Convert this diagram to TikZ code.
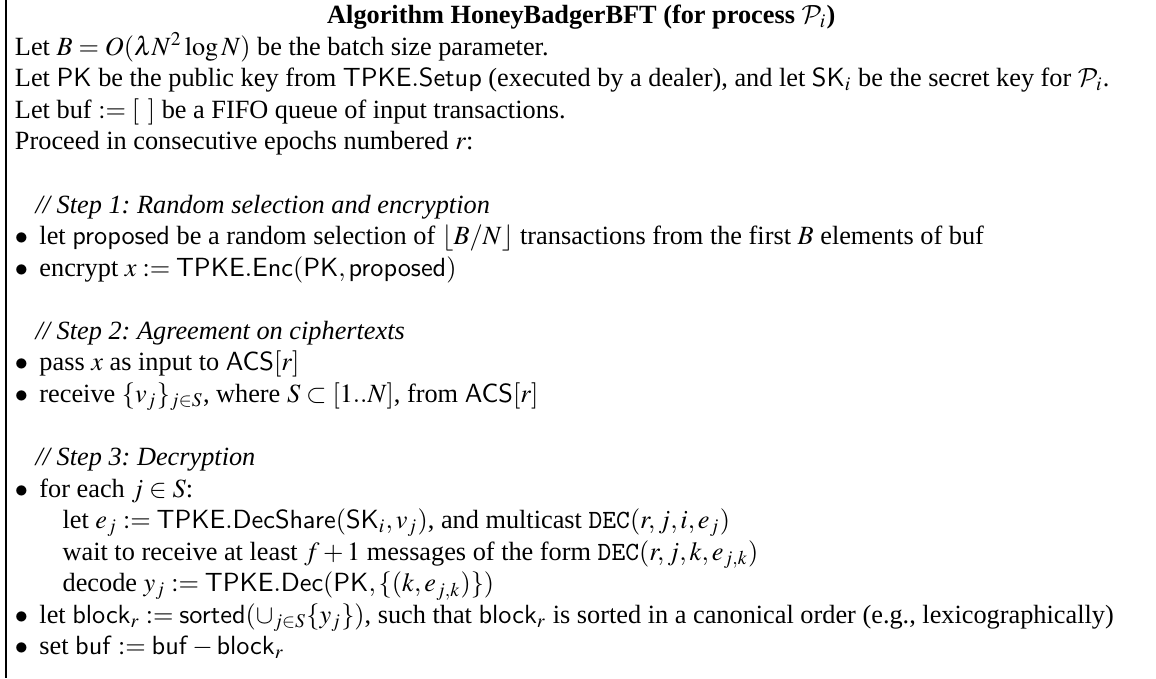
\documentclass[tikz,border=0pt]{standalone}
\usepackage{mathptmx}
\usepackage{fontspec}
\setmainfont{Liberation Serif}
\setsansfont{Liberation Sans}
\usepackage{tikz}
\usetikzlibrary{positioning, calc}
\DeclareMathAlphabet{\mathcal}{OMS}{cmsy}{m}{n}

\newcommand{\bul}{\makebox[9.3pt][l]{$\bullet$}}

\begin{document}
\begin{tikzpicture}[
  row/.style={anchor=base west, inner sep=0pt, font=\normalsize},
  cmt/.style={row, font=\normalsize\itshape\frenchspacing},
  ttl/.style={anchor=base, inner sep=0pt, font=\normalsize\bfseries}
]
  \useasboundingbox (0,0) rectangle (439.5pt,-257.8pt);
  \coordinate (frametop) at (2.3pt,0);
  \coordinate (framebot) at (2.3pt,-257.8pt);
  \draw[line width=0.5pt] (frametop) -- (framebot);

  % header
  \node[ttl] (title) at (221pt,-9pt) {Algorithm HoneyBadgerBFT (for process $\mathcal{P}_i$)};
  \node[row] (batch) at (5.5pt,-21pt) {Let $B = O(\lambda N^2 \log N)$ be the batch size parameter.};
  \node[row] (keys) at (5.5pt,-33pt) {Let $\mathsf{PK}$ be the public key from $\mathsf{TPKE.Setup}$ (executed by a dealer), and let $\mathsf{SK}_i$ be the secret key for $\mathcal{P}_i$.};
  \node[row] (queue) at (5.5pt,-45pt) {Let buf $:= [\;\,]$ be a FIFO queue of input transactions.};
  \node[row] (epochs) at (5.5pt,-57pt) {Proceed in consecutive epochs numbered $r$:};

  % step 1
  \node[cmt] (stepone) at (13.3pt,-81pt) {// Step 1: Random selection and encryption};
  \node[row] (select) at (5.5pt,-93pt) {\bul let $\mathsf{proposed}$ be a random selection of $\lfloor B/N \rfloor$ transactions from the first $B$ elements of buf};
  \node[row] (encrypt) at (5.5pt,-105pt) {\bul encrypt $x := \mathsf{TPKE.Enc}(\mathsf{PK}, \mathsf{proposed})$};

  % step 2
  \node[cmt] (steptwo) at (13.3pt,-129pt) {// Step 2: Agreement on ciphertexts};
  \node[row] (pass) at (5.5pt,-141pt) {\bul pass $x$ as input to $\mathsf{ACS}[r]$};
  \node[row] (receive) at (5.5pt,-153pt) {\bul receive $\{v_j\}_{j \in S}$, where $S \subset [1..N]$, from $\mathsf{ACS}[r]$};

  % step 3
  \node[cmt] (stepthree) at (13.3pt,-177pt) {// Step 3: Decryption};
  \node[row] (foreach) at (5.5pt,-189pt) {\bul for each $j \in S$:};
  \node[row] (share) at (23.6pt,-201pt) {let $e_j := \mathsf{TPKE.DecShare}(\mathsf{SK}_i, v_j)$, and multicast $\mathtt{DEC}(r,j,i,e_j)$};
  \node[row] (wait) at (23.6pt,-213pt) {wait to receive at least $f+1$ messages of the form $\mathtt{DEC}(r,j,k,e_{j,k})$};
  \node[row] (decode) at (23.6pt,-225pt) {decode $y_j := \mathsf{TPKE.Dec}(\mathsf{PK}, \{(k, e_{j,k})\})$};
  \node[row] (block) at (5.5pt,-237pt) {\bul let $\mathsf{block}_r := \mathsf{sorted}(\cup_{j \in S}\{y_j\})$, such that $\mathsf{block}_r$ is sorted in a canonical order (e.g., lexicographically)};
  \node[row] (update) at (5.5pt,-249pt) {\bul set $\mathsf{buf} := \mathsf{buf} - \mathsf{block}_r$};
\end{tikzpicture}
\end{document}
